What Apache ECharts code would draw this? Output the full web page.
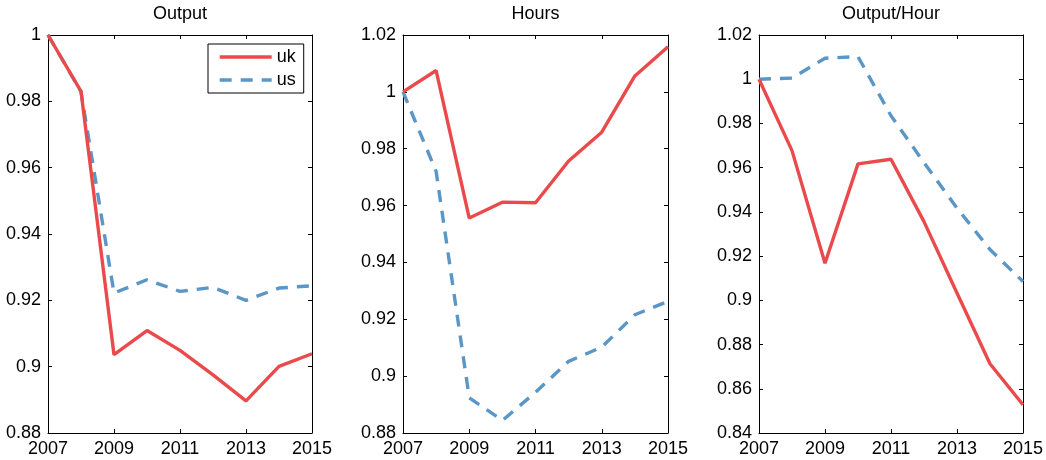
<!DOCTYPE html>
<html>
<head>
<meta charset="utf-8">
<script src="https://cdn.jsdelivr.net/npm/echarts@6/dist/echarts.min.js"></script>
<style>html,body{margin:0;padding:0;background:#fff}#c{width:1046px;height:460px}</style>
</head>
<body>
<div id="c"></div>
<script>
var years = ['2007','2008','2009','2010','2011','2012','2013','2014','2015'];
var titles = ['Output', 'Hours', 'Output/Hour'];
var seriesNames = ['uk', 'us'];
var outputUK = [1.0, 0.983, 0.9036, 0.9109, 0.9049, 0.8975, 0.8897, 0.9001, 0.9039];
var outputUS = [1.0, 0.9829, 0.9222, 0.9262, 0.9227, 0.9239, 0.9200, 0.9237, 0.9244];
var hoursUK = [1.0, 1.0075, 0.9556, 0.9612, 0.9610, 0.9757, 0.9858, 1.0056, 1.0159];
var hoursUS = [1.0, 0.972, 0.8924, 0.8844, 0.8943, 0.9052, 0.9102, 0.9216, 0.9263];
var prodUK = [1.0, 0.9677, 0.9168, 0.9617, 0.9638, 0.9356, 0.9033, 0.8713, 0.8528];
var prodUS = [1.0, 1.0005, 1.0095, 1.0102, 0.9835, 0.9623, 0.9417, 0.9230, 0.9085];
var yMin = [0.88, 0.88, 0.84];
var yMax = [1.0, 1.02, 1.02];
var yStep = 0.02;

var FONT = 'Liberation Sans';
var FS = 18;
var RED = '#EA4A4B';
var BLUE = '#5A96C6';
var LW = 3.4;
var grids = [
  {left: 48, top: 35, width: 264, height: 398},
  {left: 403, top: 35, width: 265, height: 398},
  {left: 759, top: 35, width: 264, height: 398}
];
var ukData = [outputUK, hoursUK, prodUK];
var usData = [outputUS, hoursUS, prodUS];

var xAxes = [], yAxes = [], series = [], titleArr = [];
grids.forEach(function (g, i) {
  titleArr.push({
    text: titles[i], left: g.left + g.width / 2, top: 5, textAlign: 'center', padding: 0,
    textStyle: {fontFamily: FONT, fontSize: FS, fontWeight: 'normal', color: '#000'}
  });
  var common = {
    type: 'category', data: years, boundaryGap: false, gridIndex: i,
    axisLine: {show: true, onZero: false, lineStyle: {color: '#000', width: 1}},
    axisTick: {show: true, inside: true, length: 4, interval: 1, lineStyle: {color: '#000'}},
    splitLine: {show: false}
  };
  xAxes.push(Object.assign({}, common, {
    position: 'bottom',
    axisLabel: {show: true, interval: 1, margin: 7, color: '#000', fontFamily: FONT, fontSize: FS}
  }));
  xAxes.push(Object.assign({}, common, {position: 'top', axisLabel: {show: false}}));
  var ycommon = {
    type: 'value', gridIndex: i, min: yMin[i], max: yMax[i], interval: yStep, scale: true,
    axisLine: {show: true, onZero: false, lineStyle: {color: '#000', width: 1}},
    axisTick: {show: true, inside: true, length: 4, lineStyle: {color: '#000'}},
    splitLine: {show: false}
  };
  yAxes.push(Object.assign({}, ycommon, {
    position: 'left',
    axisLabel: {show: true, margin: 7, color: '#000', fontFamily: FONT, fontSize: FS,
      formatter: function (v) { return String(+v.toFixed(4)); }}
  }));
  yAxes.push(Object.assign({}, ycommon, {position: 'right', axisLabel: {show: false}}));
  series.push({
    name: seriesNames[0], type: 'line', xAxisIndex: 2 * i, yAxisIndex: 2 * i,
    data: ukData[i], symbol: 'none', silent: true, z: 3,
    lineStyle: {color: RED, width: LW, type: 'solid'}, itemStyle: {color: RED}
  });
  series.push({
    name: seriesNames[1], type: 'line', xAxisIndex: 2 * i, yAxisIndex: 2 * i,
    data: usData[i], symbol: 'none', silent: true, z: 2,
    lineStyle: {color: BLUE, width: LW, type: [12, 9]}, itemStyle: {color: BLUE}
  });
});

var chart = echarts.init(document.getElementById('c'), null, {renderer: 'canvas'});
chart.setOption({
  animation: false,
  backgroundColor: '#fff',
  title: titleArr,
  grid: grids,
  xAxis: xAxes,
  yAxis: yAxes,
  legend: {
    data: seriesNames, orient: 'vertical', left: 208, top: 44,
    backgroundColor: '#fff', borderColor: '#000', borderWidth: 1,
    padding: [4, 8, 4, 10], itemGap: 5, itemWidth: 52, itemHeight: 18,
    itemStyle: {color: 'rgba(0,0,0,0)', borderWidth: 0, opacity: 0},
    lineStyle: {width: LW},
    textStyle: {fontFamily: FONT, fontSize: FS, color: '#000', padding: [0, 0, 0, 0]},
    selectedMode: false
  },
  series: series
});
</script>
</body>
</html>
